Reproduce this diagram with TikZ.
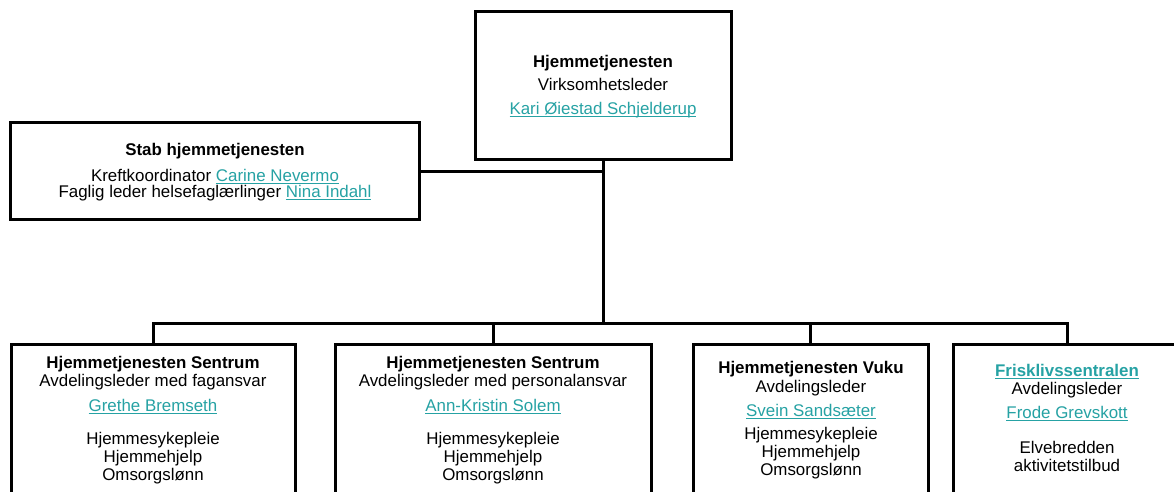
\documentclass[tikz,border=0pt]{standalone}
\usepackage{fontspec}
\setmainfont{Liberation Sans}
\definecolor{linkc}{RGB}{38,162,164}
% underlined link text
\newcommand\linktext[1]{\begingroup\color{linkc}\setbox0\hbox{#1}\rlap{\rule[-3.4pt]{\wd0}{1.3pt}}\box0\endgroup}
\begin{document}
\begin{tikzpicture}[x=1pt,y=-1pt,
  orgbox/.style={draw=black, line width=3pt, fill=white, inner sep=0pt},
  wire/.style={line width=3pt, line join=miter},
  txt/.style={anchor=base, inner sep=0pt, text=black,
    font=\fontsize{16.9}{18}\selectfont},
  txtb/.style={txt, font=\fontsize{16.9}{18}\selectfont\bfseries}]
\useasboundingbox (0,0) rectangle (1174,491);
\clip (0,0) rectangle (1174,491);

% boxes
\node[orgbox, minimum width=256, minimum height=148] (top) at (603,85) {};
\node[orgbox, minimum width=409, minimum height=97] (stab) at (214.5,171) {};
\node[orgbox, minimum width=284, minimum height=176] (b1) at (153,432) {};
\node[orgbox, minimum width=316, minimum height=176] (b2) at (493,432) {};
\node[orgbox, minimum width=235, minimum height=176] (b3) at (810.5,432) {};
\node[orgbox, minimum width=228, minimum height=176] (b4) at (1067,432) {};

% connectors
\coordinate (bar) at (603,323);
\draw[wire] (top.south) -- (bar);
\draw[wire] (stab.east) -- (stab.east -| top.south);
\draw[wire] (b1.north) -- (b1.north |- bar) -- (b4.north |- bar) -- (b4.north);
\draw[wire] (b2.north) -- (b2.north |- bar);
\draw[wire] (b3.north) -- (b3.north |- bar);

% top box
\node[txtb] (top-a) at (603,67) {Hjemmetjenesten};
\node[txt]  (top-b) at (603,90) {Virksomhetsleder};
\node[txt]  (top-c) at (603,114) {\linktext{Kari Øiestad Schjelderup}};

% staff box
\node[txtb] (stab-a) at (215,155) {Stab hjemmetjenesten};
\node[txt]  (stab-b) at (215,181) {Kreftkoordinator \linktext{Carine Nevermo}};
\node[txt]  (stab-c) at (215,197) {Faglig leder helsefaglærlinger \linktext{Nina Indahl}};

% Sentrum, fagansvar
\node[txtb] (b1-a) at (153,368) {Hjemmetjenesten Sentrum};
\node[txt]  (b1-b) at (153,386) {Avdelingsleder med fagansvar};
\node[txt]  (b1-c) at (153,411) {\linktext{Grethe Bremseth}};
\node[txt]  (b1-d) at (153,444) {Hjemmesykepleie};
\node[txt]  (b1-e) at (153,462) {Hjemmehjelp};
\node[txt]  (b1-f) at (153,480) {Omsorgslønn};

% Sentrum, personalansvar
\node[txtb] (b2-a) at (493,368) {Hjemmetjenesten Sentrum};
\node[txt]  (b2-b) at (493,386) {Avdelingsleder med personalansvar};
\node[txt]  (b2-c) at (493,411) {\linktext{Ann-Kristin Solem}};
\node[txt]  (b2-d) at (493,444) {Hjemmesykepleie};
\node[txt]  (b2-e) at (493,462) {Hjemmehjelp};
\node[txt]  (b2-f) at (493,480) {Omsorgslønn};

% Vuku
\node[txtb] (b3-a) at (811,373) {Hjemmetjenesten Vuku};
\node[txt]  (b3-b) at (811,392) {Avdelingsleder};
\node[txt]  (b3-c) at (811,416) {\linktext{Svein Sandsæter}};
\node[txt]  (b3-d) at (811,439) {Hjemmesykepleie};
\node[txt]  (b3-e) at (811,457) {Hjemmehjelp};
\node[txt]  (b3-f) at (811,475) {Omsorgslønn};

% Frisklivssentralen
\node[txtb] (b4-a) at (1067,376) {\linktext{Frisklivssentralen}};
\node[txt]  (b4-b) at (1067,394) {Avdelingsleder};
\node[txt]  (b4-c) at (1067,418) {\linktext{Frode Grevskott}};
\node[txt]  (b4-d) at (1067,453) {Elvebredden};
\node[txt]  (b4-e) at (1067,471) {aktivitetstilbud};
\end{tikzpicture}
\end{document}
